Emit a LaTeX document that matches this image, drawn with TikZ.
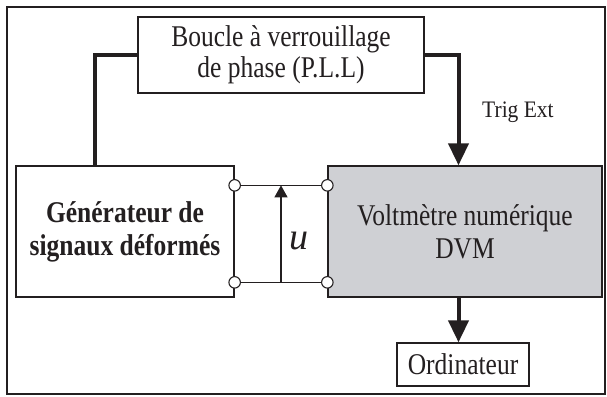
\documentclass[tikz,border=0pt]{standalone}
\usepackage{fontspec}
\setmainfont{Liberation Serif}
\usetikzlibrary{arrows.meta,calc}
\definecolor{ink}{HTML}{231F20}
\definecolor{dvmgray}{HTML}{CFD0D4}
% text set slightly taller than its natural shape
\newcommand{\tallline}[1]{\scalebox{1}[1.18]{#1}}
\tikzset{
  blockbox/.style={draw=ink, line width=1.3pt, inner sep=0pt, align=center,
    font={\fontsize{25.5}{31}\selectfont}, text=ink},
  thickwire/.style={draw=ink, line width=4pt},
  bigarrow/.style={thickwire, -{Triangle[width=20pt,length=22pt]}},
  thinwire/.style={draw=ink, line width=1.3pt},
  terminal/.style={circle, draw=ink, fill=white, line width=1.1pt,
    minimum size=11.5pt, inner sep=0pt},
  uarrow/.style={thinwire, -{Triangle[width=13pt,length=12pt]}},
  frame/.style={draw=ink, line width=2pt}
}
\begin{document}
\lineskiplimit=-30pt
\begin{tikzpicture}[x=1pt,y=-1pt]
  \useasboundingbox (0,0) rectangle (607,396);
  \draw[frame] (7,7) rectangle (605,394);

  % blocks
  \node[blockbox, minimum width=286pt, minimum height=76pt] (pll) at (281,55)
    {\tallline{Boucle à verrouillage}\\\tallline{de phase (P.L.L)}};
  \node[blockbox, minimum width=218pt, minimum height=131pt,
        font={\fontsize{25.5}{33}\selectfont\bfseries}] (gen) at (125,231.5)
    {\tallline{Générateur de}\\\tallline{signaux déformés}};
  \node[blockbox, fill=dvmgray, minimum width=274pt, minimum height=131pt,
        font={\fontsize{25.5}{33}\selectfont}] (dvm) at (465,231.5)
    {\tallline{Voltmètre numérique}\\\tallline{DVM}};
  \node[blockbox, minimum width=132pt, minimum height=43pt] (ord) at (463,364.5)
    {\tallline{Ordinateur}};

  % PLL links
  \draw[thickwire] (pll.west) -| ([xshift=-30pt]gen.north);
  \draw[bigarrow] (pll.east) -| ([xshift=-6.5pt]dvm.north);
  \node[anchor=base west, inner sep=0pt, text=ink,
        font={\fontsize{21.5}{26}\selectfont}] (trig) at (482,117)
    {\scalebox{1}[1.1]{Trig Ext}};

  % DVM to computer
  \draw[bigarrow] ([xshift=-6.5pt]dvm.south) -- ([xshift=-6.5pt]dvm.south |- ord.north);

  % measurement terminals
  \coordinate (t1) at ([yshift=-20pt]gen.north east);
  \coordinate (t2) at ([yshift=-117pt]gen.north east);
  \coordinate (t3) at ([yshift=-20pt]dvm.north west);
  \coordinate (t4) at ([yshift=-117pt]dvm.north west);
  \draw[thinwire] (t1) -- (t3);
  \draw[thinwire] (t2) -- (t4);
  \draw[uarrow] ($(t2)!0.5!(t4)$) -- ($(t1)!0.5!(t3)$);
  \node[inner sep=0pt, text=ink, font={\fontsize{38}{44}\selectfont\itshape}] (ulab)
    at ([xshift=18pt,yshift=41pt]$(t2)!0.5!(t4)$) {u};
  \node[terminal] (c1) at (t1) {};
  \node[terminal] (c2) at (t2) {};
  \node[terminal] (c3) at (t3) {};
  \node[terminal] (c4) at (t4) {};
\end{tikzpicture}
\end{document}
